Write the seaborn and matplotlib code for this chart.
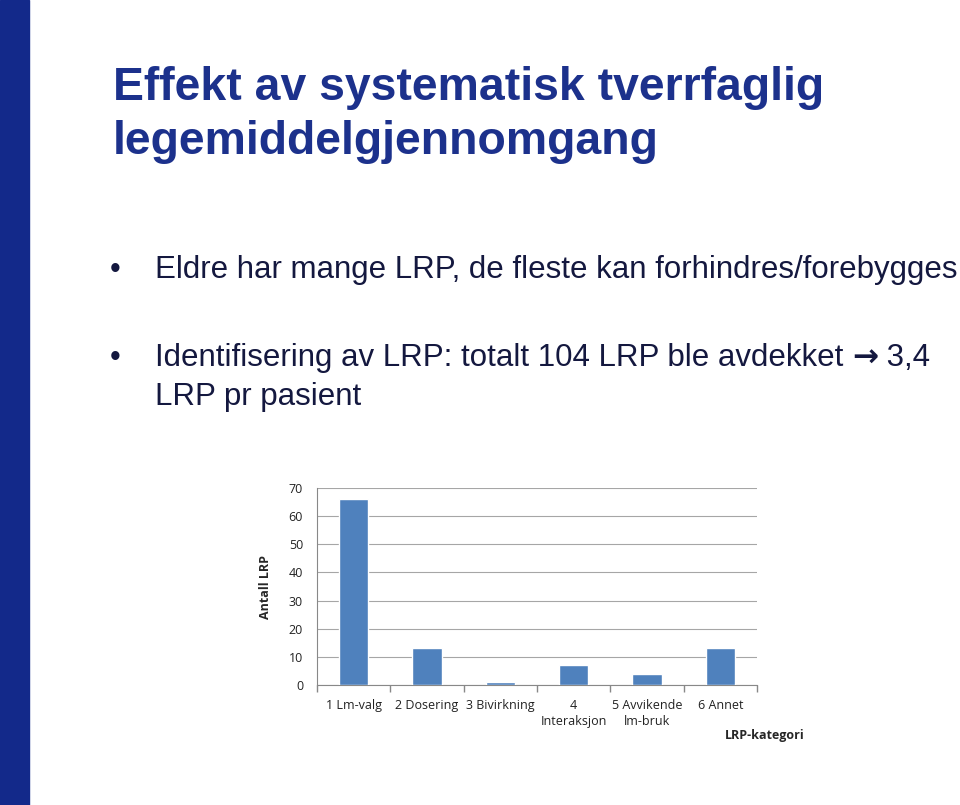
import matplotlib
matplotlib.use("Agg")
import matplotlib.pyplot as plt
import seaborn as sns
import pandas as pd
import numpy as np

categories = ["1 Lm-valg", "2 Dosering", "3 Bivirkning", "4\nInteraksjon", "5 Avvikende\nlm-bruk", "6 Annet"]
values = [66, 13, 1, 7, 4, 13]
yticks = [0, 10, 20, 30, 40, 50, 60, 70]

title_lines = ["Effekt av systematisk tverrfaglig", "legemiddelgjennomgang"]
bullet1 = "Eldre har mange LRP, de fleste kan forhindres/forebygges"
bullet2_a = "Identifisering av LRP: totalt 104 LRP ble avdekket "
bullet2_arrow = "\u2192"
bullet2_b = " 3,4"
bullet2_line2 = "LRP pr pasient"

sns.set_theme(style="white")
plt.rcParams['font.family'] = ['Liberation Sans', 'DejaVu Sans']

W, H = 960, 805
fig = plt.figure(figsize=(9.6, 8.05), dpi=100)

# left decorative bar
fig.patches.append(plt.Rectangle((0, 0), 29 / W, 1, transform=fig.transFigure,
                                 color="#13298A", zorder=0))

title_color = "#1C318C"
text_color = "#14183F"
fig.text(113 / W, 1 - 88 / H, title_lines[0], fontsize=33.4, fontweight="bold",
         color=title_color, va="center", ha="left")
fig.text(113 / W, 1 - 142 / H, title_lines[1], fontsize=33.4, fontweight="bold",
         color=title_color, va="center", ha="left")

bfs = 22.5
fig.text(110 / W, 1 - 270 / H, "\u2022", fontsize=22, color=text_color, va="center", ha="left")
fig.text(155 / W, 1 - 270 / H, bullet1, fontsize=bfs, color=text_color, va="center", ha="left")
fig.text(110 / W, 1 - 358 / H, "\u2022", fontsize=22, color=text_color, va="center", ha="left")
t = fig.text(155 / W, 1 - 358 / H, bullet2_a, fontsize=bfs, color=text_color, va="center", ha="left")
fig.canvas.draw()
bb = t.get_window_extent()
ta = fig.text(bb.x1 / W, 1 - 358 / H, bullet2_arrow, fontsize=bfs, color=text_color,
              va="center", ha="left", family=["DejaVu Sans"], fontweight="bold")
fig.canvas.draw()
bba = ta.get_window_extent()
fig.text(bba.x1 / W, 1 - 358 / H, bullet2_b, fontsize=bfs, color=text_color, va="center", ha="left")
fig.text(155 / W, 1 - 397 / H, bullet2_line2, fontsize=bfs, color=text_color, va="center", ha="left")

ax = fig.add_axes([317 / W, 1 - 685 / H, (757 - 317) / W, (685 - 488) / H])
df = pd.DataFrame({"kategori": categories, "antall": values})
sns.barplot(data=df, x="kategori", y="antall", color="#4F81BD", width=0.4,
            saturation=1, ax=ax, zorder=3)
ax.set_ylim(0, 70)
ax.set_yticks(yticks)
ax.set_xlim(-0.5, len(categories) - 0.5)
ax.yaxis.grid(True, color="#A6A6A6", linewidth=0.8, zorder=0)
ax.set_axisbelow(True)
for s in ["top", "right"]:
    ax.spines[s].set_visible(False)
for s in ["left", "bottom"]:
    ax.spines[s].set_color("#888888")
    ax.spines[s].set_linewidth(0.8)
ax.set_xticks(np.arange(len(categories)))
ax.set_xticklabels(categories, fontsize=9, color="#222222", family=["Open Sans", "DejaVu Sans"],
                   linespacing=1.3)
ax.set_yticklabels([str(v) for v in yticks], fontsize=9, color="#222222",
                   family=["Open Sans", "DejaVu Sans"])
ax.tick_params(axis="x", length=0, pad=10)
ax.tick_params(axis="y", length=0, pad=10)
ax.set_xticks(np.arange(len(categories) + 1) - 0.5, minor=True)
ax.tick_params(axis="x", which="minor", length=5, color="#888888", direction="out", bottom=True)
ax.set_xlabel("")
ax.set_ylabel("Antall LRP", fontsize=9, fontweight="bold", family=["Open Sans", "DejaVu Sans"],
              labelpad=12)
fig.text(765 / W, 1 - 735 / H, "LRP-kategori", fontsize=9, fontweight="bold",
         family=["Open Sans", "DejaVu Sans"], ha="center", va="center")

fig.savefig("out.png", dpi=100, facecolor="white")
